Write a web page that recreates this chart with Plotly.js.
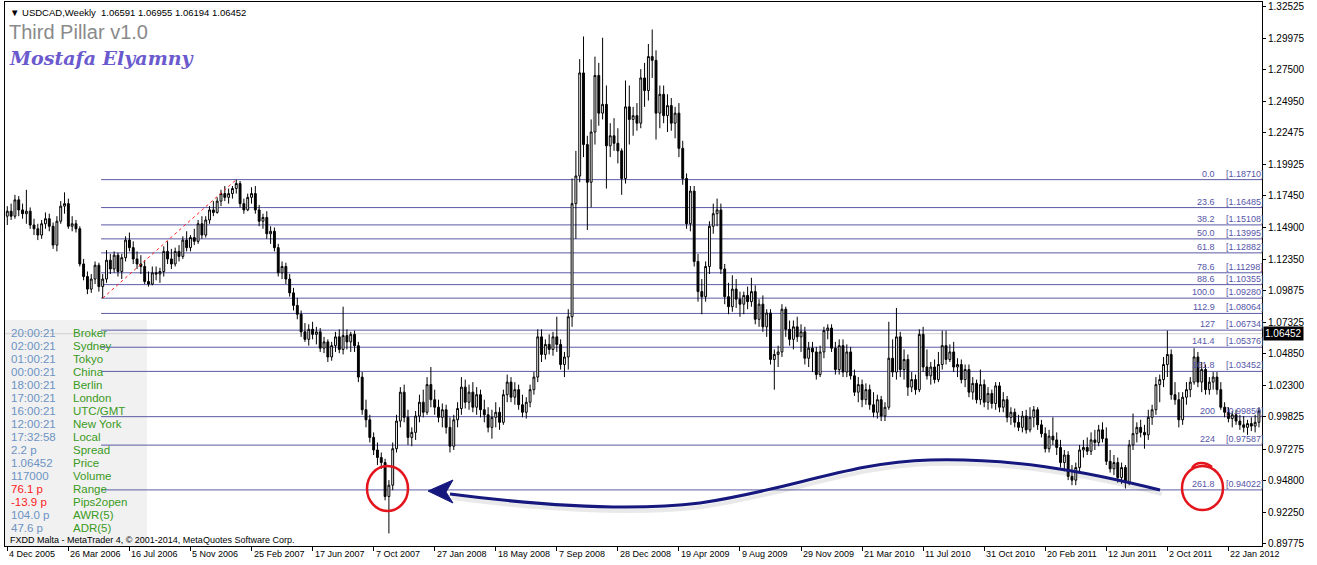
<!DOCTYPE html>
<html>
<head>
<meta charset="utf-8">
<script src="https://cdn.plot.ly/plotly-3.0.1.min.js"></script>
<style>html,body{margin:0;padding:0;background:#fff;}#chart{width:1317px;height:565px;}</style>
</head>
<body>
<div id="chart"></div>
<script>
// ---------------- DATA (USDCAD weekly) ----------------
const firstWeek = '2005-12-04';   // Sunday of first weekly bar
const open = [
1.158,1.162,1.158,1.171,1.163,1.160,1.162,1.151,1.148,1.143,
1.152,1.156,1.150,1.135,1.154,1.166,1.168,1.150,1.152,1.148,
1.120,1.110,1.100,1.108,1.119,1.102,1.108,1.123,1.116,1.127,
1.114,1.125,1.139,1.133,1.124,1.120,1.118,1.106,1.104,1.113,
1.112,1.114,1.130,1.124,1.120,1.130,1.126,1.139,1.133,1.141,
1.138,1.152,1.143,1.155,1.163,1.161,1.170,1.176,1.173,1.176,
1.180,1.184,1.168,1.163,1.173,1.176,1.163,1.154,1.157,1.144,
1.146,1.133,1.113,1.118,1.108,1.097,1.087,1.080,1.066,1.060,
1.068,1.064,1.066,1.053,1.058,1.046,1.055,1.062,1.052,1.063,
1.058,1.064,1.055,1.030,1.004,0.996,0.982,0.972,0.966,0.962,
0.935,0.944,0.973,0.995,1.018,0.998,0.982,0.986,0.999,1.010,
1.002,1.024,1.012,1.006,0.998,1.004,0.990,0.975,0.996,1.005,
1.022,1.010,1.018,1.006,1.016,1.004,1.000,0.990,0.998,1.002,
0.994,1.016,1.026,1.014,1.020,1.008,1.002,1.010,1.020,1.030,
1.062,1.048,1.056,1.052,1.062,1.056,1.040,1.046,1.078,1.168,
1.190,1.272,1.215,1.185,1.225,1.270,1.240,1.247,1.214,1.222,
1.216,1.210,1.188,1.245,1.235,1.238,1.232,1.268,1.258,1.285,
1.282,1.240,1.255,1.238,1.246,1.232,1.240,1.212,1.188,1.152,
1.178,1.122,1.098,1.094,1.118,1.150,1.160,1.163,1.116,1.094,
1.086,1.100,1.092,1.088,1.095,1.090,1.098,1.076,1.088,1.070,
1.081,1.044,1.048,1.050,1.084,1.068,1.060,1.070,1.062,1.066,
1.045,1.053,1.050,1.032,1.050,1.067,1.069,1.053,1.036,1.055,
1.034,1.050,1.031,1.018,1.024,1.012,1.020,1.008,1.002,1.012,
0.999,1.006,1.045,1.034,1.062,1.036,1.044,1.022,1.028,1.020,
1.064,1.038,1.031,1.038,1.028,1.040,1.055,1.044,1.050,1.038,
1.040,1.028,1.036,1.018,1.025,1.012,1.024,1.010,1.017,1.009,
1.023,1.006,1.012,0.998,1.002,0.994,0.990,0.999,0.988,0.998,
1.004,0.992,0.985,0.973,0.983,0.980,0.974,0.962,0.968,0.951,
0.948,0.958,0.972,0.974,0.971,0.980,0.978,0.988,0.981,0.963,
0.957,0.962,0.950,0.958,0.946,0.976,0.985,0.990,0.986,0.984,
0.998,1.004,1.024,1.028,1.040,1.048,1.016,1.012,0.996,1.014,
1.020,1.026,1.046,1.026,1.036,1.020,1.026,1.030,1.020,1.006,
1.002,0.997,1.000,0.995,0.992,0.990,0.993,0.991,0.994];
const high = [
1.166,1.168,1.175,1.174,1.168,1.179,1.165,1.156,1.152,1.155,
1.161,1.160,1.153,1.158,1.170,1.177,1.172,1.158,1.155,1.150,
1.124,1.114,1.112,1.122,1.121,1.112,1.131,1.128,1.130,1.129,
1.128,1.142,1.145,1.138,1.130,1.127,1.123,1.114,1.118,1.118,
1.117,1.134,1.138,1.132,1.133,1.135,1.142,1.146,1.143,1.148,
1.155,1.158,1.158,1.166,1.170,1.173,1.179,1.182,1.180,1.182,
1.1871,1.186,1.172,1.176,1.181,1.182,1.167,1.160,1.162,1.150,
1.149,1.136,1.122,1.121,1.112,1.101,1.093,1.083,1.073,1.072,
1.074,1.070,1.069,1.062,1.060,1.058,1.066,1.068,1.086,1.068,
1.066,1.067,1.058,1.034,1.012,1.000,0.986,0.978,0.970,0.965,
0.948,0.978,1.000,1.022,1.024,1.004,0.990,1.003,1.016,1.020,
1.030,1.038,1.020,1.012,1.009,1.008,0.998,1.000,1.010,1.030,
1.028,1.024,1.026,1.022,1.020,1.012,1.006,1.004,1.010,1.006,
1.020,1.032,1.030,1.026,1.024,1.016,1.014,1.024,1.034,1.068,
1.068,1.060,1.064,1.066,1.078,1.060,1.050,1.084,1.188,1.210,
1.283,1.301,1.222,1.235,1.285,1.280,1.300,1.262,1.232,1.236,
1.228,1.212,1.266,1.262,1.245,1.248,1.275,1.280,1.295,1.3065,
1.290,1.262,1.262,1.255,1.252,1.245,1.248,1.218,1.192,1.182,
1.182,1.128,1.108,1.122,1.154,1.168,1.172,1.168,1.120,1.105,
1.111,1.108,1.098,1.098,1.102,1.109,1.103,1.092,1.095,1.084,
1.084,1.052,1.055,1.088,1.086,1.075,1.075,1.078,1.072,1.070,
1.058,1.058,1.054,1.055,1.070,1.072,1.072,1.058,1.060,1.060,
1.056,1.054,1.036,1.030,1.028,1.025,1.024,1.018,1.016,1.015,
1.010,1.074,1.060,1.085,1.066,1.052,1.048,1.034,1.032,1.068,
1.070,1.052,1.042,1.044,1.050,1.067,1.067,1.056,1.058,1.045,
1.044,1.040,1.040,1.030,1.028,1.036,1.028,1.022,1.020,1.026,
1.026,1.018,1.015,1.006,1.005,1.000,1.003,1.004,1.006,1.007,
1.006,0.996,0.990,0.988,0.998,0.986,0.980,0.972,0.971,0.960,
0.962,0.976,0.980,0.982,0.986,0.988,0.992,0.994,0.990,0.972,
0.968,0.966,0.962,0.960,0.980,1.001,0.994,0.996,0.992,1.004,
1.008,1.030,1.032,1.046,1.067,1.052,1.026,1.018,1.018,1.026,
1.030,1.053,1.050,1.042,1.040,1.030,1.034,1.034,1.026,1.010,
1.006,1.003,1.004,1.000,0.999,0.996,0.998,1.000,1.006];
const low = [
1.151,1.155,1.156,1.158,1.156,1.152,1.148,1.143,1.139,1.140,
1.148,1.146,1.132,1.130,1.152,1.160,1.148,1.146,1.145,1.118,
1.107,1.096,1.097,1.104,1.098,1.0928,1.105,1.112,1.113,1.110,
1.108,1.122,1.130,1.120,1.116,1.112,1.104,1.102,1.103,1.107,
1.105,1.110,1.120,1.116,1.118,1.122,1.124,1.130,1.130,1.135,
1.136,1.140,1.141,1.152,1.158,1.160,1.166,1.170,1.168,1.172,
1.176,1.165,1.160,1.162,1.168,1.160,1.150,1.148,1.140,1.136,
1.130,1.110,1.108,1.104,1.094,1.083,1.076,1.062,1.058,1.055,
1.060,1.056,1.050,1.049,1.042,1.043,1.050,1.049,1.048,1.052,
1.050,1.050,1.026,1.000,0.990,0.978,0.968,0.960,0.957,0.932,
0.9056,0.940,0.970,0.990,0.994,0.976,0.975,0.980,0.994,0.998,
1.000,1.006,1.000,0.994,0.990,0.985,0.970,0.972,0.990,1.000,
1.005,1.004,1.002,1.000,0.998,0.994,0.986,0.981,0.990,0.988,
0.992,1.010,1.010,1.008,1.004,0.998,0.997,1.006,1.016,1.026,
1.042,1.044,1.048,1.047,1.050,1.036,1.030,1.036,1.070,1.140,
1.185,1.205,1.147,1.165,1.215,1.230,1.235,1.180,1.205,1.210,
1.200,1.175,1.184,1.215,1.222,1.226,1.228,1.245,1.250,1.268,
1.219,1.228,1.232,1.225,1.226,1.220,1.205,1.183,1.148,1.146,
1.118,1.090,1.080,1.090,1.112,1.144,1.150,1.112,1.088,1.080,
1.082,1.085,1.078,1.080,1.084,1.086,1.072,1.070,1.066,1.062,
1.040,1.020,1.038,1.046,1.062,1.055,1.052,1.058,1.050,1.040,
1.038,1.034,1.028,1.030,1.045,1.060,1.050,1.032,1.032,1.030,
1.030,1.028,1.015,1.010,1.006,1.008,1.004,0.998,0.997,0.995,
0.995,1.004,1.030,1.028,1.030,1.028,1.015,1.018,1.016,1.018,
1.034,1.028,1.024,1.025,1.026,1.036,1.040,1.042,1.034,1.030,
1.025,1.022,1.014,1.012,1.009,1.008,1.006,1.004,1.005,1.004,
1.002,1.002,0.994,0.992,0.990,0.987,0.986,0.985,0.986,0.990,
0.988,0.982,0.970,0.970,0.976,0.968,0.958,0.955,0.948,0.944,
0.944,0.954,0.966,0.968,0.968,0.972,0.975,0.978,0.960,0.954,
0.952,0.946,0.945,0.9413,0.944,0.972,0.978,0.982,0.973,0.980,
0.992,1.000,1.010,1.022,1.030,1.012,1.008,0.990,0.992,1.008,
1.014,1.024,1.022,1.018,1.016,1.016,1.020,1.016,1.004,0.998,
0.994,0.990,0.992,0.988,0.986,0.984,0.987,0.986,0.990];
const close = [
1.162,1.158,1.171,1.163,1.160,1.162,1.151,1.148,1.143,1.152,
1.156,1.150,1.135,1.154,1.166,1.168,1.150,1.152,1.148,1.120,
1.110,1.100,1.108,1.119,1.102,1.108,1.123,1.116,1.127,1.114,
1.125,1.139,1.133,1.124,1.120,1.118,1.106,1.104,1.113,1.112,
1.114,1.130,1.124,1.120,1.130,1.126,1.139,1.133,1.141,1.138,
1.152,1.143,1.155,1.163,1.161,1.170,1.176,1.173,1.176,1.180,
1.184,1.168,1.163,1.173,1.176,1.163,1.154,1.157,1.144,1.146,
1.133,1.113,1.118,1.108,1.097,1.087,1.080,1.066,1.060,1.068,
1.064,1.066,1.053,1.058,1.046,1.055,1.062,1.052,1.063,1.058,
1.064,1.055,1.030,1.004,0.996,0.982,0.972,0.966,0.962,0.935,
0.944,0.973,0.995,1.018,0.998,0.982,0.986,0.999,1.010,1.002,
1.024,1.012,1.006,0.998,1.004,0.990,0.975,0.996,1.005,1.022,
1.010,1.018,1.006,1.016,1.004,1.000,0.990,0.998,1.002,0.994,
1.016,1.026,1.014,1.020,1.008,1.002,1.010,1.020,1.030,1.062,
1.048,1.056,1.052,1.062,1.056,1.040,1.046,1.078,1.168,1.190,
1.272,1.215,1.185,1.225,1.270,1.240,1.247,1.214,1.222,1.216,
1.210,1.188,1.245,1.235,1.238,1.232,1.268,1.258,1.285,1.282,
1.240,1.255,1.238,1.246,1.232,1.240,1.212,1.188,1.152,1.178,
1.122,1.098,1.094,1.118,1.150,1.160,1.163,1.116,1.094,1.086,
1.100,1.092,1.088,1.095,1.090,1.098,1.076,1.088,1.070,1.081,
1.044,1.048,1.050,1.084,1.068,1.060,1.070,1.062,1.066,1.045,
1.053,1.050,1.032,1.050,1.067,1.069,1.053,1.036,1.055,1.034,
1.050,1.031,1.018,1.024,1.012,1.020,1.008,1.002,1.012,0.999,
1.006,1.045,1.034,1.062,1.036,1.044,1.022,1.028,1.020,1.064,
1.038,1.031,1.038,1.028,1.040,1.055,1.044,1.050,1.038,1.040,
1.028,1.036,1.018,1.025,1.012,1.024,1.010,1.017,1.009,1.023,
1.006,1.012,0.998,1.002,0.994,0.990,0.999,0.988,0.998,1.004,
0.992,0.985,0.973,0.983,0.980,0.974,0.962,0.968,0.951,0.948,
0.958,0.972,0.974,0.971,0.980,0.978,0.988,0.981,0.963,0.957,
0.962,0.950,0.958,0.946,0.976,0.985,0.990,0.986,0.984,0.998,
1.004,1.024,1.028,1.040,1.048,1.016,1.012,0.996,1.014,1.020,
1.026,1.046,1.026,1.036,1.020,1.026,1.030,1.020,1.006,1.002,
0.997,1.000,0.995,0.992,0.990,0.993,0.991,0.994,1.003];

// Y axis price ticks
const yTicks = [1.32525,1.29975,1.27500,1.24950,1.22475,1.19925,1.17450,1.14900,1.12350,1.09875,
                1.07325,1.04850,1.02300,0.99825,0.97275,0.94800,0.92250,0.89775];
// X axis date labels
const xTickDates = ['2005-12-04','2006-03-26','2006-07-16','2006-11-05','2007-02-25','2007-06-17','2007-10-07',
  '2008-01-27','2008-05-18','2008-09-07','2008-12-28','2009-04-19','2009-08-09','2009-11-29','2010-03-21',
  '2010-07-11','2010-10-31','2011-02-20','2011-06-12','2011-10-02','2012-01-22'];
const xTickText = ['4 Dec 2005','26 Mar 2006','16 Jul 2006','5 Nov 2006','25 Feb 2007','17 Jun 2007','7 Oct 2007',
  '27 Jan 2008','18 May 2008','7 Sep 2008','28 Dec 2008','19 Apr 2009','9 Aug 2009','29 Nov 2009','21 Mar 2010',
  '11 Jul 2010','31 Oct 2010','20 Feb 2011','12 Jun 2011','2 Oct 2011','22 Jan 2012'];

// Fibonacci levels
const fibPct = ['0.0','23.6','38.2','50.0','61.8','78.6','88.6','100.0','112.9','127','141.4','161.8','200','224','261.8'];
const fibPrice = [1.18710,1.16485,1.15108,1.13995,1.12882,1.11298,1.10355,1.09280,1.08064,1.06734,1.05376,1.03452,0.99850,0.97587,0.94022];
const fibStart = '2006-05-25', fibEnd = '2012-03-24';
const fibLow = {date:'2006-05-28', price:1.0928}, fibHigh = {date:'2007-01-28', price:1.18710};

const currentPrice = 1.06452;
const headerText = '\u25BC USDCAD,Weekly  1.06591 1.06955 1.06194 1.06452';

// Info panel
const infoValues = ['20:00:21','02:00:21','01:00:21','00:00:21','18:00:21','17:00:21','16:00:21','12:00:21','17:32:58',
  '2.2 p','1.06452','117000','76.1 p','-13.9 p','104.0 p','47.6 p'];
const infoLabels = ['Broker','Sydney','Tokyo','China','Berlin','London','UTC/GMT','New York','Local',
  'Spread','Price','Volume','Range','Pips2open','AWR(5)','ADR(5)'];
const infoRed = [false,false,false,false,false,false,false,false,false,false,false,false,true,true,false,false];

// ---------------- BUILD ----------------
const dates = [];
{
  const t0 = Date.parse(firstWeek + 'T00:00:00Z');
  for (let i = 0; i < close.length; i++) {
    dates.push(new Date(t0 + i * 7 * 86400000).toISOString().slice(0, 10));
  }
}

// plot area in pixels
const L = 5, R = 1262, T = 2, B = 546;
const PX = x => (x - L) / (R - L);
const PY = y => (B - y) / (B - T);

const trace = {
  type: 'candlestick', x: dates, open: open, high: high, low: low, close: close,
  increasing: {line: {color: '#000000', width: 1}, fillcolor: '#ffffff'},
  decreasing: {line: {color: '#000000', width: 1}, fillcolor: '#000000'},
  whiskerwidth: 0, hoverinfo: 'skip', showlegend: false
};

const shapes = [];
const annotations = [];
const FONT = 'Liberation Sans, Arial, sans-serif';
const smallFont = {family: FONT, size: 9, color: '#000'};

// info panel background
shapes.push({type: 'rect', xref: 'paper', yref: 'paper', x0: 0, x1: PX(147), y0: 0, y1: PY(320),
  fillcolor: '#f1f1f1', line: {width: 0}, layer: 'below'});
// current price line
shapes.push({type: 'line', xref: 'paper', yref: 'y', x0: 0, x1: 1, y0: currentPrice, y1: currentPrice,
  line: {color: '#cfcfcf', width: 1}, layer: 'below'});
// fib lines
fibPrice.forEach((p, k) => {
  shapes.push({type: 'line', xref: 'x', yref: 'y', x0: fibStart, x1: fibEnd, y0: p, y1: p,
    line: {color: '#5b5ba6', width: 1}, layer: 'below'});
  annotations.push({xref: 'paper', yref: 'y', x: PX(1217), y: p, xanchor: 'right', yanchor: 'bottom',
    text: fibPct[k], showarrow: false, font: {family: FONT, size: 9, color: '#5555a8'}, yshift: -1});
  annotations.push({xref: 'paper', yref: 'y', x: PX(1224), y: p, xanchor: 'left', yanchor: 'bottom',
    text: '[' + p.toFixed(5) + ']', showarrow: false, font: {family: FONT, size: 9, color: '#5555a8'}, yshift: -1});
});
// fib trend line (red dotted)
shapes.push({type: 'line', xref: 'x', yref: 'y', x0: fibLow.date, y0: fibLow.price, x1: fibHigh.date, y1: fibHigh.price,
  line: {color: '#ff2020', width: 1, dash: 'dot'}});

// hand-drawn decorations (pixel positions -> paper)
function P(pts) { return pts.map(p => PX(p[0]).toFixed(5) + ',' + PY(p[1]).toFixed(5)); }
function curvePath(off) {
  const o = off || [0, 0];
  const s = (x, y) => P([[x + o[0], y + o[1]]])[0];
  return 'M' + s(1160, 490) +
    ' C' + s(1080, 470) + ' ' + s(1010, 458) + ' ' + s(930, 460) +
    ' C' + s(850, 462) + ' ' + s(790, 490) + ' ' + s(700, 503) +
    ' C' + s(620, 513) + ' ' + s(520, 503) + ' ' + s(450, 494);
}
shapes.push({type: 'path', xref: 'paper', yref: 'paper', path: curvePath([2, 4]),
  line: {color: 'rgba(120,120,120,0.16)', width: 4}});
shapes.push({type: 'path', xref: 'paper', yref: 'paper', path: curvePath(),
  line: {color: '#16187e', width: 3}});
{
  const pts = P([[428, 491], [453, 480], [446, 492], [453, 503]]);
  shapes.push({type: 'path', xref: 'paper', yref: 'paper', path: 'M' + pts.join(' L') + ' Z',
    fillcolor: '#16187e', line: {color: '#16187e', width: 1}});
}
// red circles
shapes.push({type: 'circle', xref: 'paper', yref: 'paper', x0: PX(367), x1: PX(408), y0: PY(511), y1: PY(466),
  line: {color: '#e3141c', width: 2.5}});
shapes.push({type: 'circle', xref: 'paper', yref: 'paper', x0: PX(1182), x1: PX(1223), y0: PY(510), y1: PY(466),
  line: {color: '#e3141c', width: 2.5}});
{
  // small hook at the top of the second hand-drawn circle
  const pts = P([[1192, 468], [1196, 461], [1206, 462], [1212, 467]]);
  shapes.push({type: 'path', xref: 'paper', yref: 'paper',
    path: 'M' + pts[0] + ' C' + pts[1] + ' ' + pts[2] + ' ' + pts[3],
    line: {color: '#e3141c', width: 2.5}});
}

// x tick labels (MT4 style: text starts at tick)
xTickDates.forEach((d, k) => {
  annotations.push({xref: 'x', yref: 'paper', x: d, y: 0, xanchor: 'left', yanchor: 'top', yshift: -1, xshift: 0,
    text: xTickText[k], showarrow: false, font: smallFont});
});

// header texts
annotations.push({xref: 'paper', yref: 'paper', x: PX(8), y: PY(12), xanchor: 'left', yanchor: 'middle',
  text: headerText, showarrow: false, font: {family: FONT, size: 9.5, color: '#000'}});
annotations.push({xref: 'paper', yref: 'paper', x: PX(7), y: PY(32), xanchor: 'left', yanchor: 'middle',
  text: 'Third Pillar v1.0', showarrow: false, font: {family: FONT, size: 20, color: '#8a8a8a'}});
annotations.push({xref: 'paper', yref: 'paper', x: PX(7), y: PY(58), xanchor: 'left', yanchor: 'middle',
  text: '<b><i>Mostafa Elyamny</i></b>', showarrow: false, font: {family: 'DejaVu Serif, serif', size: 19, color: '#6a5acd'}});

// info panel
infoValues.forEach((v, k) => {
  const y = 333 + 13.0 * k;
  annotations.push({xref: 'paper', yref: 'paper', x: PX(9), y: PY(y), xanchor: 'left', yanchor: 'middle',
    text: v, showarrow: false, font: {family: FONT, size: 11.5, color: infoRed[k] ? '#ff2020' : '#6c93c4'}});
  annotations.push({xref: 'paper', yref: 'paper', x: PX(71), y: PY(y), xanchor: 'left', yanchor: 'middle',
    text: infoLabels[k], showarrow: false, font: {family: FONT, size: 11.5, color: '#3a9a22'}});
});
annotations.push({xref: 'paper', yref: 'paper', x: PX(8), y: PY(540), xanchor: 'left', yanchor: 'middle',
  text: 'FXDD Malta - MetaTrader 4, \u00A9 2001-2014, MetaQuotes Software Corp.', showarrow: false,
  font: {family: FONT, size: 9, color: '#000'}});

// current price tag on axis
annotations.push({xref: 'paper', yref: 'y', x: 1, y: currentPrice, xanchor: 'left', yanchor: 'middle', xshift: 1,
  text: currentPrice.toFixed(5), showarrow: false, bgcolor: '#000', borderpad: 1,
  font: {family: FONT, size: 10, color: '#fff'}});

const layout = {
  width: 1317, height: 565,
  margin: {l: L, r: 1317 - R, t: T, b: 565 - B, pad: 0},
  paper_bgcolor: '#ffffff', plot_bgcolor: '#ffffff',
  showlegend: false,
  xaxis: {
    type: 'date', range: ['2005-11-29 19:00', '2012-03-23 14:00'],
    rangeslider: {visible: false}, showgrid: false, zeroline: false,
    showline: true, mirror: true, linecolor: '#000', linewidth: 1,
    ticks: 'outside', ticklen: 4, tickcolor: '#000', tickvals: xTickDates, showticklabels: false,
    fixedrange: true
  },
  yaxis: {
    side: 'right', range: [0.8956, 1.32843], showgrid: false, zeroline: false,
    showline: true, mirror: true, linecolor: '#000', linewidth: 1,
    ticks: 'outside', ticklen: 3, tickcolor: '#000',
    tickvals: yTicks, ticktext: yTicks.map(v => v.toFixed(5)),
    tickfont: {family: FONT, size: 10, color: '#000'},
    fixedrange: true
  },
  shapes: shapes,
  annotations: annotations
};

Plotly.newPlot('chart', [trace], layout, {displayModeBar: false, staticPlot: true});
</script>
</body>
</html>
